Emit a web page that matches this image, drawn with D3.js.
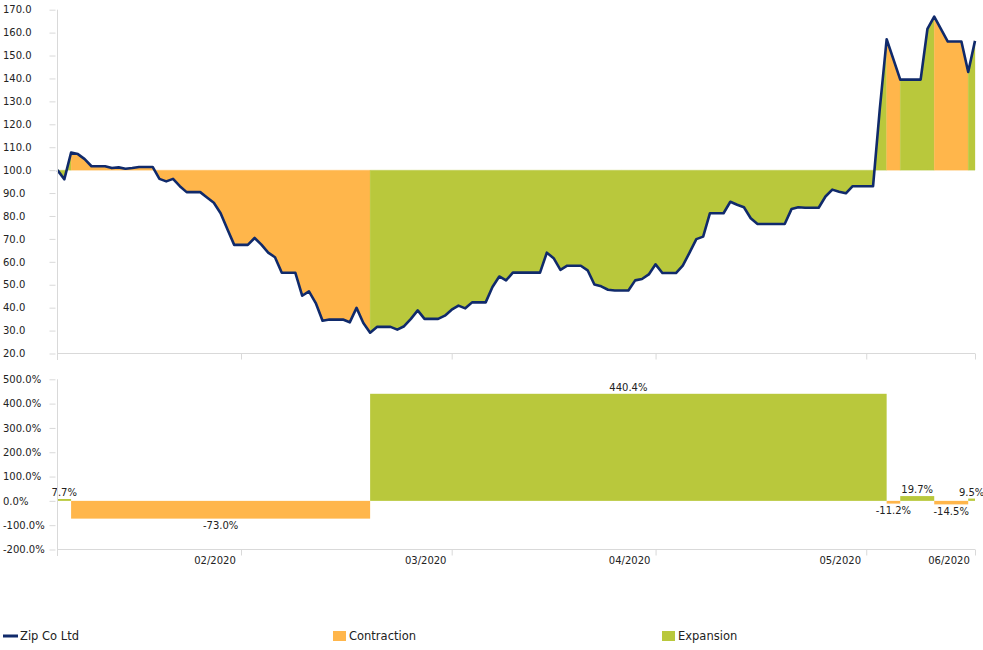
<!DOCTYPE html>
<html><head><meta charset="utf-8">
<script src="https://cdn.jsdelivr.net/npm/d3@7"></script>
<style>
body{margin:0;background:#fff}
svg{display:block}
text{font-family:"DejaVu Sans",Verdana,sans-serif}
</style>
</head><body>
<svg id="c" width="983" height="650"></svg>
<script>
// ---- data ----
const startDate = "2020-02-02"; // one value per calendar day
const values = [
  100.0, 96.0, 107.7, 107.0, 104.8, 101.7, 101.7, 101.7, 100.9, 101.2,
  100.6, 100.9, 101.4, 101.4, 101.4, 96.2, 95.1, 96.2, 93.0, 90.4,
  90.4, 90.4, 88.1, 85.8, 81.2, 74.2, 67.4, 67.4, 67.4, 70.4,
  67.5, 64.0, 62.0, 55.2, 55.2, 55.2, 45.2, 47.1, 42.0, 34.3,
  34.8, 34.8, 34.8, 33.6, 39.9, 33.3, 29.1, 31.6, 31.6, 31.6,
  30.4, 31.9, 35.1, 38.8, 35.1, 35.1, 35.1, 36.5, 39.1, 40.9,
  39.7, 42.3, 42.3, 42.3, 49.0, 53.6, 51.9, 55.3, 55.3, 55.3,
  55.3, 55.3, 64.0, 61.6, 56.5, 58.3, 58.3, 58.3, 56.3, 50.1,
  49.3, 47.8, 47.5, 47.5, 47.5, 51.9, 52.5, 54.5, 58.9, 55.1,
  55.1, 55.1, 58.3, 64.0, 69.9, 71.0, 81.2, 81.2, 81.2, 86.2,
  84.9, 83.8, 79.0, 76.5, 76.5, 76.5, 76.5, 76.5, 83.0, 83.8,
  83.6, 83.6, 83.6, 88.5, 91.5, 90.6, 89.9, 93.0, 93.0, 93.0,
  93.0, 127.0, 157.1, 148.3, 139.5, 139.5, 139.5, 139.5, 161.6, 167.0,
  161.5, 156.1, 156.1, 156.1, 142.8, 156.4
];
const phaseStart  = ["2020-02-02","2020-02-04","2020-03-19","2020-06-03","2020-06-05","2020-06-10","2020-06-15"];
const phaseEnd    = ["2020-02-04","2020-03-19","2020-06-03","2020-06-05","2020-06-10","2020-06-15","2020-06-16"];
const phaseChange = [7.7, -73.0, 440.4, -11.2, 19.7, -14.5, 9.5];
const topTickValues = [20,30,40,50,60,70,80,90,100,110,120,130,140,150,160,170];
const bottomTickValues = [-200,-100,0,100,200,300,400,500];
const monthTickDates  = ["2020-02-29","2020-03-31","2020-04-30","2020-05-31","2020-06-16"];
const monthTickLabels = ["02/2020","03/2020","04/2020","05/2020","06/2020"];
const legendLabels = ["Zip Co Ltd","Contraction","Expansion"];

// ---- styles ----
const ORANGE = "#FFB64B", GREEN = "#B9C83C", NAVY = "#102A6B", AXIS = "#D9D9D9", TXT = "#222";

const parse = d3.utcParse("%Y-%m-%d");
const d0 = parse(startDate);
const data = values.map((v,i)=>({date:d3.utcDay.offset(d0,i), v}));
const svg = d3.select("#c");

const x = d3.scaleUtc().domain([data[0].date, data[data.length-1].date]).range([57.5, 975]);
const yTop = d3.scaleLinear().domain([20,170]).range([353.5, 9.7]);
const yBot = d3.scaleLinear().domain([-200,500]).range([549.5, 379.3]);
const tickDates = monthTickDates.map(parse);

const phases = phaseStart.map((s,i)=>({s:parse(s), e:parse(phaseEnd[i]), pct:phaseChange[i]}));
const col = p => p.pct >= 0 ? GREEN : ORANGE;

// ---- top chart: fills ----
const area = d3.area().x(d=>x(d.date)).y0(yTop(100)).y1(d=>yTop(d.v));
phases.forEach(p=>{
  const seg = data.filter(d=>d.date>=p.s && d.date<=p.e);
  svg.append("path").attr("d", area(seg)).attr("fill", col(p)).attr("stroke", col(p)).attr("stroke-width",0.3);
});
// line
svg.append("path").datum(data)
  .attr("d", d3.line().x(d=>x(d.date)).y(d=>yTop(d.v)))
  .attr("fill","none").attr("stroke",NAVY).attr("stroke-width",2.6).attr("stroke-linejoin","round");

function styleAxis(g){
  g.select(".domain").remove();
  g.selectAll(".tick line").attr("stroke",AXIS);
  g.selectAll(".tick text").attr("fill",TXT).style("font-size","10px").style("font-family","'DejaVu Sans',Verdana,sans-serif");
}

// top y axis
svg.append("line").attr("x1",57.5).attr("x2",57.5).attr("y1",9.7).attr("y2",360).attr("stroke",AXIS);
svg.append("g").attr("transform","translate(55.5,0)")
  .call(d3.axisLeft(yTop).tickValues(topTickValues).tickSize(6).tickFormat(d3.format(".1f")))
  .call(styleAxis)
  .call(g=>g.selectAll(".tick text").attr("x",3-55.5).attr("text-anchor","start"));
// top x axis
svg.append("line").attr("x1",57.5).attr("x2",975).attr("y1",353.5).attr("y2",353.5).attr("stroke",AXIS);
svg.append("g").attr("transform","translate(0,353.5)")
  .call(d3.axisBottom(x).tickValues(tickDates).tickSize(6).tickSizeOuter(0).tickFormat(""))
  .call(styleAxis);

// ---- bottom chart ----
svg.selectAll("rect.bar").data(phases).join("rect").attr("class","bar")
  .attr("x",p=>x(p.s)).attr("width",p=>x(p.e)-x(p.s))
  .attr("y",p=>Math.min(yBot(p.pct),yBot(0))).attr("height",p=>Math.abs(yBot(p.pct)-yBot(0)))
  .attr("fill",col);
svg.selectAll("text.lbl").data(phases).join("text").attr("class","lbl")
  .attr("x",p=>(x(p.s)+x(p.e))/2)
  .attr("y",p=>p.pct>=0 ? yBot(p.pct)-3 : yBot(p.pct)+10.6)
  .attr("text-anchor","middle").attr("fill",TXT).style("font-size","10px")
  .text(p=>p.pct.toFixed(1)+"%");

svg.append("line").attr("x1",57.5).attr("x2",57.5).attr("y1",379.3).attr("y2",556).attr("stroke",AXIS);
svg.append("g").attr("transform","translate(55.5,0)")
  .call(d3.axisLeft(yBot).tickValues(bottomTickValues).tickSize(6).tickFormat(d=>d.toFixed(1)+"%"))
  .call(styleAxis)
  .call(g=>g.selectAll(".tick text").attr("x",3-55.5).attr("text-anchor","start"));
svg.append("line").attr("x1",57.5).attr("x2",975).attr("y1",549.5).attr("y2",549.5).attr("stroke",AXIS);
svg.append("g").attr("transform","translate(0,549.5)")
  .call(d3.axisBottom(x).tickValues(tickDates).tickSize(6).tickSizeOuter(0).tickPadding(1)
        .tickFormat((d,i)=>monthTickLabels[i]))
  .call(styleAxis)
  .call(g=>g.selectAll(".tick text").attr("dx",-26.5));

// ---- legend ----
const lg = svg.append("g").style("font-family","'Liberation Sans',Arial,sans-serif").style("font-size","11.5px");
lg.append("rect").attr("x",3).attr("y",634.5).attr("width",15).attr("height",3).attr("fill",NAVY);
lg.append("text").attr("x",20).attr("y",640).attr("fill",TXT).text(legendLabels[0]);
lg.append("rect").attr("x",333).attr("y",631).attr("width",13).attr("height",10).attr("fill",ORANGE);
lg.append("text").attr("x",349).attr("y",640).attr("fill",TXT).text(legendLabels[1]);
lg.append("rect").attr("x",662).attr("y",631).attr("width",13).attr("height",10).attr("fill",GREEN);
lg.append("text").attr("x",678).attr("y",640).attr("fill",TXT).text(legendLabels[2]);
</script>
</body></html>
